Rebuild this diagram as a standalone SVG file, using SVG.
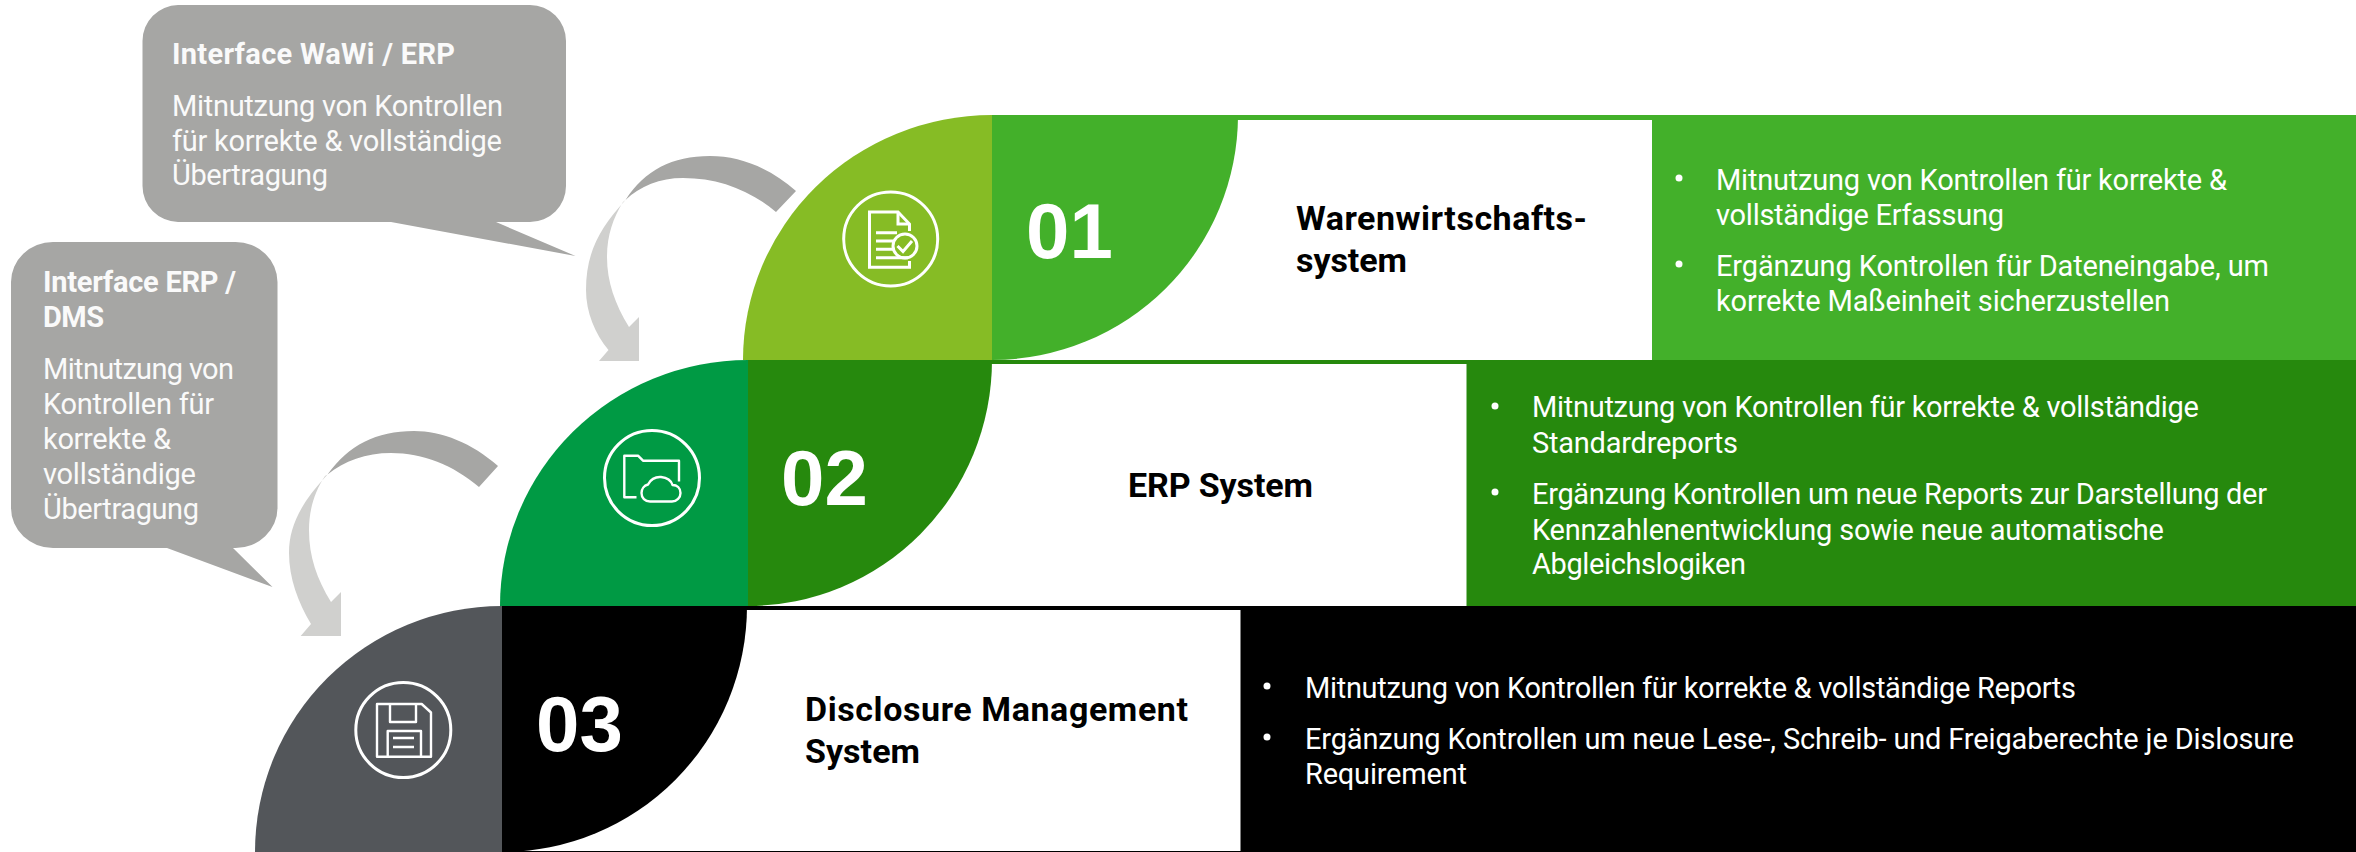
<svg xmlns="http://www.w3.org/2000/svg" width="2356" height="852" viewBox="0 0 2356 852">
<style>
text{font-family:Roboto,"Liberation Sans",sans-serif}
.b{font-size:29px;fill:#fff}
.bubble{font-size:29px;fill:#fafafa}
.bh{font-size:29px;font-weight:700;fill:#fafafa}
.t{font-size:34px;font-weight:700;fill:#000}
.n{font-family:"Liberation Sans",Arial,sans-serif;font-size:78px;font-weight:700;fill:#fff}
.dot{fill:#fff}
.i{fill:none;stroke:#fff;stroke-width:3}
.i2{fill:none;stroke:#fff;stroke-width:2.4;stroke-linejoin:round}
.ca{fill:#A6A6A4}
.cl{fill:#D0D0CE}
</style>
<rect width="2356" height="852" fill="#fff"/>
<g id="row-01">
<rect x="992" y="115" width="1364" height="245" fill="#43B02A"/>
<rect x="992" y="120" width="660" height="240" fill="#fff"/>
<path d="M992,115H1238A246,245 0 0 1 992,360Z" fill="#43B02A"/>
<path d="M743,360A249,245 0 0 1 992,115V360Z" fill="#86BC25"/>
<circle class="i" cx="890.7" cy="239" r="47"/>
<path class="i" d="M909.5,231V224L898,212H869.5V267.2H909.5V261"/>
<path class="i" d="M898,212V224H909.5"/>
<path class="i" d="M876,232.7H897M876,241H893M876,249.300H893M876,257.700H908"/>
<circle class="i" cx="905" cy="246" r="12"/>
<path class="i" d="M897.500,246L903,251.500L912,241"/>
<text class="n" x="1026" y="258">01</text>
<text class="t"><tspan x="1296" y="230" textLength="291">Warenwirtschafts-</tspan><tspan x="1296" y="272" textLength="111">system</tspan></text>
<circle class="dot" cx="1679" cy="178" r="3.500"/>
<circle class="dot" cx="1679" cy="264" r="3.500"/>
<text class="b"><tspan x="1716" y="190" textLength="511">Mitnutzung von Kontrollen für korrekte &amp;</tspan><tspan x="1716" y="225" textLength="288">vollständige Erfassung</tspan><tspan x="1716" y="276" textLength="553">Ergänzung Kontrollen für Dateneingabe, um</tspan><tspan x="1716" y="311" textLength="454">korrekte Maßeinheit sicherzustellen</tspan></text>
</g>
<g id="row-02">
<rect x="748" y="360" width="1608" height="246" fill="#26890D"/>
<rect x="748" y="364" width="718.500" height="242" fill="#fff"/>
<path d="M748,360H992A244,246 0 0 1 748,606Z" fill="#26890D"/>
<path d="M500,606A248,246 0 0 1 748,360V606Z" fill="#009A44"/>
<circle class="i" cx="652" cy="478" r="47.500"/>
<path class="i2" d="M636.500,497.300H624.300V455.700H638L643,460.700H679V481.500"/>
<path class="i2" d="M650,501.500H672C677,501.500 680.500,497.500 680.500,493C680.500,488 677,485 672.500,485C671,480 666,477.500 661,477C655,476.500 650,480 648,484.500C644,485.500 641.500,489 641.500,493C641.500,498 645,501.500 650,501.500Z"/>
<text class="n" x="781" y="505">02</text>
<text class="t" x="1128" y="497" textLength="185">ERP System</text>
<circle class="dot" cx="1495" cy="406" r="3.500"/>
<circle class="dot" cx="1495" cy="492" r="3.500"/>
<text class="b"><tspan x="1532" y="417" textLength="667">Mitnutzung von Kontrollen für korrekte &amp; vollständige</tspan><tspan x="1532" y="453" textLength="206">Standardreports</tspan><tspan x="1532" y="504" textLength="735">Ergänzung Kontrollen um neue Reports zur Darstellung der</tspan><tspan x="1532" y="540" textLength="632">Kennzahlenentwicklung sowie neue automatische</tspan><tspan x="1532" y="574" textLength="214">Abgleichslogiken</tspan></text>
</g>
<g id="row-03">
<rect x="502" y="606" width="1854" height="246" fill="#000"/>
<rect x="502" y="610" width="738.500" height="241" fill="#fff"/>
<path d="M502,606H747A245,246 0 0 1 502,852Z" fill="#000"/>
<path d="M255,852A247,246 0 0 1 502,606V852Z" fill="#53565A"/>
<circle class="i" cx="403.300" cy="730" r="47.500"/>
<path class="i2" d="M377,704H421.700L431,712.500V756.700H377Z"/>
<path class="i2" d="M390,704V722H416V704M387.700,756.700V731H421V756.700"/>
<path class="i2" d="M393,738H414M393,747H414"/>
<text class="n" x="536" y="751">03</text>
<text class="t"><tspan x="805" y="721" textLength="383">Disclosure Management</tspan><tspan x="805" y="763" textLength="115">System</tspan></text>
<circle class="dot" cx="1267" cy="686" r="3.500"/>
<circle class="dot" cx="1267" cy="737" r="3.500"/>
<text class="b"><tspan x="1305" y="698" textLength="771">Mitnutzung von Kontrollen für korrekte &amp; vollständige Reports</tspan><tspan x="1305" y="749" textLength="989">Ergänzung Kontrollen um neue Lese-, Schreib- und Freigaberechte je Dislosure</tspan><tspan x="1305" y="784" textLength="162">Requirement</tspan></text>
</g>
<g id="callout-wawi-erp">
<path class="ca" d="M178,5H530A36,36 0 0 1 566,41V186A36,36 0 0 1 530,222H496L575.500,256L391,222H178A36,36 0 0 1 142.500,186V41A36,36 0 0 1 178,5Z"/>
<text class="bh" x="172" y="64" textLength="283">Interface WaWi / ERP</text>
<text class="bubble"><tspan x="172" y="116" textLength="331">Mitnutzung von Kontrollen</tspan><tspan x="172" y="151" textLength="330">für korrekte &amp; vollständige</tspan><tspan x="172" y="185" textLength="156">Übertragung</tspan></text>
</g>
<g id="callout-erp-dms">
<path class="ca" d="M53,242H235.500A42,40 0 0 1 277.500,282V508A42,40 0 0 1 235.500,548H233L272.500,587L167,548H53A42,40 0 0 1 11,508V282A42,40 0 0 1 53,242Z"/>
<text class="bh"><tspan x="43" y="292" textLength="193">Interface ERP /</tspan><tspan x="43" y="327" textLength="61">DMS</tspan></text>
<text class="bubble"><tspan x="43" y="379" textLength="191">Mitnutzung von</tspan><tspan x="43" y="414" textLength="171">Kontrollen für</tspan><tspan x="43" y="449" textLength="128">korrekte &amp;</tspan><tspan x="43" y="484" textLength="153">vollständige</tspan><tspan x="43" y="519" textLength="156">Übertragung</tspan></text>
</g>
<g id="connectors">
<g id="arrow-1-2">
<path class="cl" d="M625.500,200C600,228 586,252 586,290C586,312 595,334 608.500,350L599,361H639V317L629,327C615,304 607,282 607,257C607,236 613,218 623,202Z"/>
<path class="ca" d="M796,191C770,168 740,156 710,156C672,156 645,170 625.500,200C640,186 660,178 683,178C718,178 750,190 776,212Z"/>
</g>
<g id="arrow-2-3">
<path class="cl" d="M327.500,474.500C302,502 289,525 289,553C289,578 298,602 311,624L300.700,636H341V592L331,602C317,579 309,557 309,530C309,509 315,491 325,476Z"/>
<path class="ca" d="M498,466C472,443 442,431 414,431C376,431 349,445 327.500,474.500C344,461 366,453 391,453C423,453 453,465 479,487Z"/>
</g>
</g>
</svg>
